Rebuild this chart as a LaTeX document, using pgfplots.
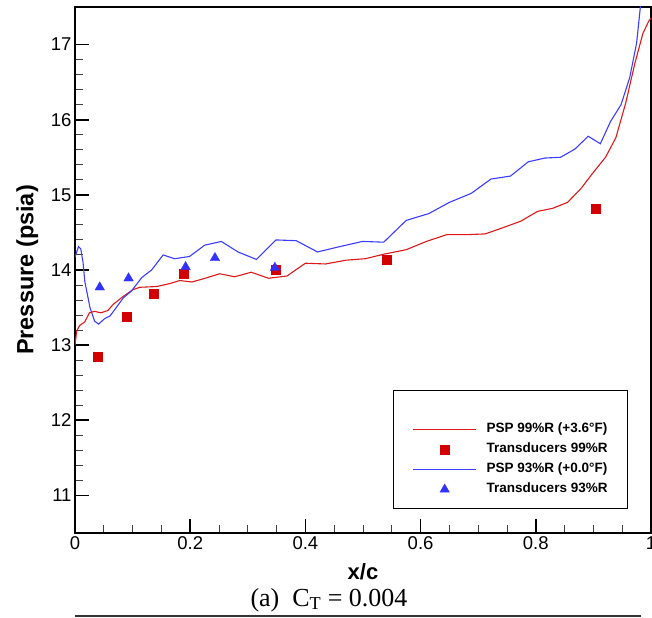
\documentclass[border=0pt]{standalone}
\usepackage{fontspec}
\setmainfont{Liberation Sans}
\newfontfamily\timesfont{Liberation Serif}
\usepackage{pgfplots}
\pgfplotsset{compat=1.18}

\definecolor{pspred}{RGB}{220,25,25}
\definecolor{trred}{RGB}{210,0,0}
\definecolor{pspblue}{RGB}{60,60,255}
\definecolor{trblue}{RGB}{50,50,255}

\begin{document}
\begin{tikzpicture}
\begin{axis}[name=ax, scale only axis, width=576pt, height=526pt,
 xmin=0, xmax=1, ymin=10.5, ymax=17.5,
 xtick={0,0.2,0.4,0.6,0.8,1}, ytick={11,12,13,14,15,16,17},
 minor x tick num=3, minor y tick num=4,
 tick pos=left, tick align=inside,
 major tick length=14pt, minor tick length=8pt,
 major tick style={line width=1.6pt, black},
 minor tick style={line width=1pt, black!75},
 axis line style={line width=2.4pt},
 ticklabel style={font=\fontsize{18.5}{20}\selectfont},
 /pgf/number format/assume math mode=true,
 xlabel={x/c}, ylabel={Pressure (psia)},
 every axis x label/.style={at={(axis description cs:0.5,-0.074)}, anchor=center, font=\fontsize{22}{24}\selectfont\bfseries},
 every axis y label/.style={at={(axis description cs:-0.083,0.5)}, rotate=90, anchor=center, font=\fontsize{23.5}{25}\selectfont\bfseries},
 legend style={draw=none, fill=none, at={(axis cs:0.5858,11.97)}, anchor=north west, inner sep=0pt, row sep=6.5pt, column sep=10pt, font=\fontsize{13.5}{15}\selectfont\bfseries, nodes={inner sep=0pt, text height=10pt, text depth=3.5pt}},
 legend cell align=left,
 legend image code/.code={\draw[mark repeat=2,mark phase=2,#1] plot coordinates {(0pt,0pt) (31.5pt,0pt) (63pt,0pt)};},
]
\addplot[pspred, line width=1.1pt, mark=none] coordinates {
(0.000,13.00)(0.003,13.19)(0.008,13.26)(0.017,13.31)(0.025,13.43)(0.034,13.45)(0.045,13.43)(0.057,13.46)(0.066,13.54)(0.084,13.65)(0.101,13.74)(0.113,13.77)(0.142,13.78)(0.165,13.82)(0.182,13.86)(0.203,13.84)(0.226,13.89)(0.251,13.95)(0.277,13.91)(0.306,13.97)(0.336,13.89)(0.368,13.92)(0.400,14.09)(0.435,14.08)(0.470,14.13)(0.504,14.15)(0.536,14.21)(0.575,14.27)(0.610,14.38)(0.645,14.47)(0.679,14.47)(0.712,14.48)(0.742,14.56)(0.774,14.65)(0.803,14.78)(0.829,14.82)(0.855,14.90)(0.878,15.08)(0.899,15.29)(0.921,15.50)(0.939,15.76)(0.956,16.22)(0.972,16.75)(0.986,17.15)(0.996,17.31)(1.000,17.35)
};
\addlegendentry{PSP 99\%R (+3.6\textdegree F)}
\addplot[only marks, mark=square*, mark size=4.5pt, color=trred] coordinates {
(0.040,12.85)(0.089,13.38)(0.137,13.69)(0.188,13.95)(0.349,14.01)(0.541,14.14)(0.904,14.82)
};
\addlegendentry{Transducers 99\%R}
\addplot[pspblue, line width=1.1pt, mark=none] coordinates {
(0.000,14.17)(0.006,14.31)(0.010,14.28)(0.014,14.10)(0.017,13.85)(0.026,13.50)(0.034,13.32)(0.041,13.28)(0.051,13.35)(0.061,13.39)(0.084,13.63)(0.098,13.72)(0.116,13.90)(0.133,14.00)(0.153,14.20)(0.173,14.15)(0.199,14.18)(0.225,14.33)(0.254,14.38)(0.283,14.24)(0.315,14.14)(0.349,14.40)(0.384,14.39)(0.421,14.24)(0.459,14.31)(0.499,14.38)(0.536,14.37)(0.575,14.66)(0.614,14.75)(0.650,14.90)(0.688,15.02)(0.722,15.21)(0.756,15.25)(0.787,15.44)(0.816,15.49)(0.843,15.50)(0.868,15.61)(0.891,15.78)(0.912,15.68)(0.930,15.98)(0.948,16.20)(0.963,16.56)(0.975,17.02)(0.981,17.46)(0.986,17.90)
};
\addlegendentry{PSP 93\%R (+0.0\textdegree F)}
\addplot[only marks, mark=triangle*, mark size=5.5pt, color=trblue] coordinates {
(0.043,13.77)(0.093,13.89)(0.192,14.04)(0.243,14.16)(0.347,14.03)
};
\addlegendentry{Transducers 93\%R}
\draw[black, line width=1pt] (axis cs:0.5529,12.40) rectangle (axis cs:0.9584,10.82);
\end{axis}
\node[font=\timesfont\fontsize{26}{28}\selectfont, anchor=center] at ([xshift=254pt,yshift=-67pt]ax.south west) {(a)\hspace{0.5em}C\textsubscript{T} = 0.004};
\draw[line width=1.5pt, black!80] ([yshift=-83pt]ax.south west) -- ([xshift=566pt,yshift=-83pt]ax.south west);
\pgfresetboundingbox
\path[use as bounding box] ([xshift=-75pt,yshift=-85pt]ax.south west) rectangle ([xshift=1pt,yshift=7pt]ax.north east);
\end{tikzpicture}
\end{document}
